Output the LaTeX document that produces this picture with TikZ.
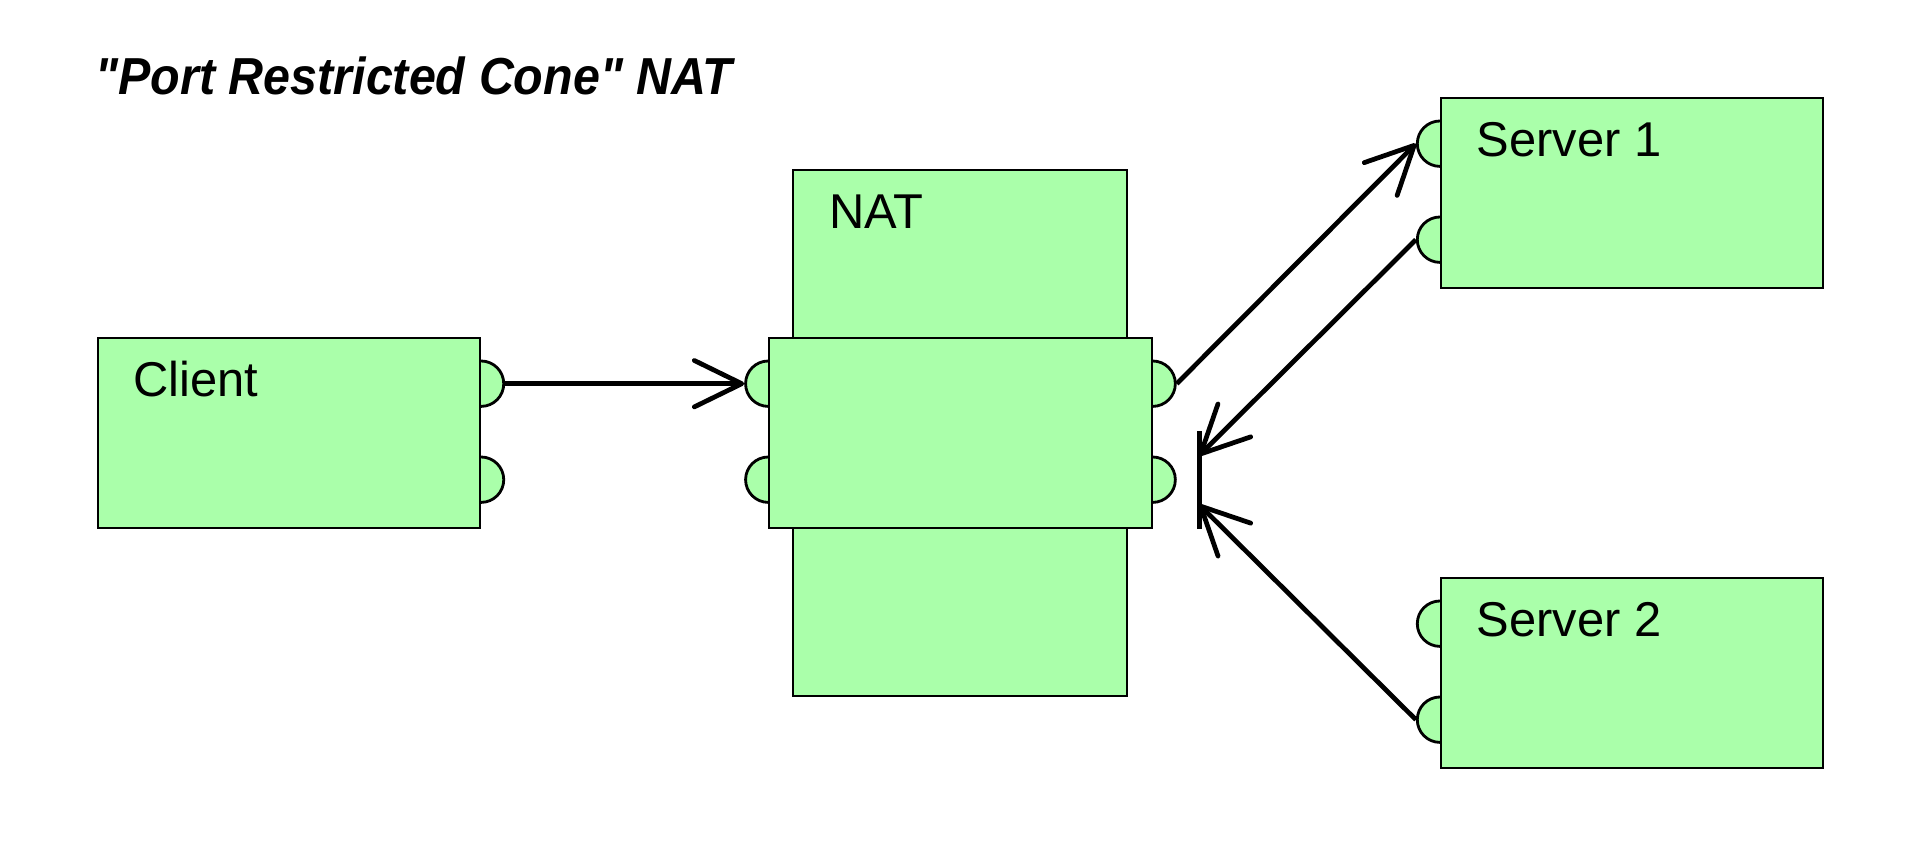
\documentclass[tikz,border=0pt]{standalone}
\usepackage{fontspec}
\setmainfont{Liberation Sans}[Ligatures=TeXOff]
\usepackage{graphicx}
\usetikzlibrary{arrows.meta, positioning, calc, backgrounds}

\definecolor{boxgreen}{RGB}{170,255,170}

\begin{document}
\begin{tikzpicture}[x=0.01cm, y=-0.01cm,
    box/.style={rectangle, draw, fill=boxgreen, line width=0.6pt, anchor=north west, inner sep=0pt},
    port/.style={circle, draw, fill=boxgreen, line width=0.8pt, minimum size=0.454cm, inner sep=0pt},
    boxlabel/.style={anchor=base west, inner sep=0pt, font=\fontsize{13.9}{16}\selectfont},
    flow/.style={line width=1.35pt, -{Straight Barb[length=13.5pt, width=13.2pt, round]}}]
    \useasboundingbox (0,0) rectangle (1920,864);

    \node[anchor=base west, inner sep=0pt, font=\fontsize{14.8}{17}\selectfont\bfseries\itshape] (title) at (95,95) {\scalebox{0.93}[1]{"Port Restricted Cone" NAT}};

    \node[box, minimum width=3.82cm, minimum height=1.9cm] (client) at (96.7,336.7) {};
    \node[box, minimum width=3.337cm, minimum height=5.253cm] (nattop) at (792.3,169) {};
    \node[box, minimum width=3.82cm, minimum height=1.9cm] (nat) at (768.3,336.7) {};
    \node[box, minimum width=3.82cm, minimum height=1.9cm] (server1) at (1440,96.7) {};
    \node[box, minimum width=3.82cm, minimum height=1.9cm] (server2) at (1440,576.7) {};

    \node[boxlabel] (clientlabel) at ($(client.north west)+(36,59.5)$) {Client};
    \node[boxlabel] (natlabel) at ($(nattop.north west)+(36,59.5)$) {NAT};
    \node[boxlabel] (server1label) at ($(server1.north west)+(36,59.5)$) {Server 1};
    \node[boxlabel] (server2label) at ($(server2.north west)+(36,59.5)$) {Server 2};

    \begin{scope}[on background layer]
    \node[port] (clientp1) at ($(client.north east)+(0,47)$) {};
    \node[port] (clientp2) at ($(client.north east)+(0,143)$) {};
    \node[port] (natl1) at ($(nat.north west)+(0,47)$) {};
    \node[port] (natl2) at ($(nat.north west)+(0,143)$) {};
    \node[port] (natr1) at ($(nat.north east)+(0,47)$) {};
    \node[port] (natr2) at ($(nat.north east)+(0,143)$) {};
    \node[port] (s1p1) at ($(server1.north west)+(0,47)$) {};
    \node[port] (s1p2) at ($(server1.north west)+(0,143)$) {};
    \node[port] (s2p1) at ($(server2.north west)+(0,47)$) {};
    \node[port] (s2p2) at ($(server2.north west)+(0,143)$) {};
    \end{scope}

    \node[fill, minimum width=0.05cm, minimum height=0.98cm, inner sep=0pt] (merge) at (1199,480) {};
    \coordinate (mergein1) at (1199,455.6);
    \coordinate (mergein2) at (1199,504.5);

    \draw[flow] (clientp1.east) -- (natl1.west);
    \draw[flow] (natr1.east) -- (s1p1.west);
    \draw[flow] (s1p2.west) -- (mergein1);
    \draw[flow] (s2p2.west) -- (mergein2);
\end{tikzpicture}
\end{document}
